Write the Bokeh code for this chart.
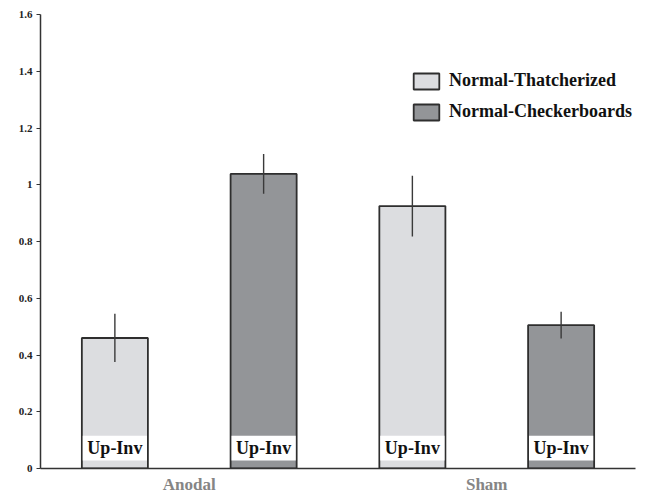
from bokeh.plotting import figure
from bokeh.models import ColumnDataSource, FactorRange, Range1d, Legend, LegendItem, NumeralTickFormatter, FixedTicker
from bokeh.transform import dodge
from bokeh.core.properties import value
from bokeh.embed import file_html
from bokeh.resources import INLINE

# ---- data ----
groups = ["Anodal", "Sham"]
thatcherized = [0.46, 0.925]
thatcherized_err = [0.085, 0.107]
checkerboards = [1.038, 0.505]
checkerboards_err = [0.07, 0.047]
series_names = ["Normal-Thatcherized", "Normal-Checkerboards"]
inner_label = "Up-Inv"
label_band = [0.028, 0.115]   # white label band (data units)
y_ticks = [0, 0.2, 0.4, 0.6, 0.8, 1.0, 1.2, 1.4, 1.6]

SERIF = "Liberation Serif"
LIGHT = "#dcdde0"
DARK = "#939598"
EDGE = "#2e2e2e"

p = figure(x_range=FactorRange(*groups), y_range=Range1d(0, 1.6),
           width=640, height=496, output_backend="svg", toolbar_location=None,
           min_border_left=40, min_border_right=5, min_border_top=14, min_border_bottom=27)
p.outline_line_color = None
p.xgrid.grid_line_color = None
p.ygrid.grid_line_color = None
p.x_range.range_padding = 0

src = ColumnDataSource(dict(
    g=groups,
    t=thatcherized,
    t_lo=[v - e for v, e in zip(thatcherized, thatcherized_err)],
    t_hi=[v + e for v, e in zip(thatcherized, thatcherized_err)],
    c=checkerboards,
    c_lo=[v - e for v, e in zip(checkerboards, checkerboards_err)],
    c_hi=[v + e for v, e in zip(checkerboards, checkerboards_err)],
    lab=[inner_label] * len(groups),
    b0=[label_band[0]] * len(groups),
    b1=[label_band[1]] * len(groups),
))

offs = {"t": -0.25, "c": 0.25}
fills = {"t": LIGHT, "c": DARK}
BW = 0.222

bars = {}
for key in ["t", "c"]:
    xd = dodge("g", offs[key], range=p.x_range)
    bars[key] = p.vbar(x=xd, top=key, width=BW, source=src, fill_color=fills[key],
                       line_color=EDGE, line_width=1.8)
    p.vbar(x=xd, bottom="b0", top="b1", width=BW - 0.006, source=src,
           fill_color="white", line_color=None)
    p.text(x=xd, y=0.071, text="lab", source=src, text_font=value(SERIF),
           text_font_style="bold", text_font_size="18px", text_align="center",
           text_baseline="middle", text_color="#111111")
    p.segment(x0=xd, x1=xd, y0=key + "_lo", y1=key + "_hi", source=src,
              line_color="#3a3a3a", line_width=1.4)

legend = Legend(items=[LegendItem(label=series_names[0], renderers=[bars["t"]]),
                       LegendItem(label=series_names[1], renderers=[bars["c"]])],
                location=(370, 346), glyph_width=32, glyph_height=20, label_height=20,
                spacing=10, padding=0, margin=0, label_standoff=7,
                border_line_alpha=0, background_fill_alpha=0,
                label_text_font=SERIF, label_text_font_style="bold",
                label_text_font_size="18px", label_text_color="#111111")
p.add_layout(legend, "center")

# axes
p.yaxis.ticker = FixedTicker(ticks=y_ticks)
p.yaxis.formatter = NumeralTickFormatter(format="0.[0]")
p.yaxis.major_tick_in = 0
p.yaxis.major_tick_out = 4
p.yaxis.minor_tick_line_color = None
p.yaxis.axis_line_color = "#333333"
p.yaxis.axis_line_width = 1.5
p.yaxis.major_tick_line_color = "#333333"
p.yaxis.major_label_text_font = SERIF
p.yaxis.major_label_text_font_style = "bold"
p.yaxis.major_label_text_font_size = "11px"
p.yaxis.major_label_text_color = "#222222"
p.yaxis.major_label_standoff = 4

p.xaxis.major_tick_in = 0
p.xaxis.major_tick_out = 0
p.xaxis.major_tick_line_color = None
p.xaxis.minor_tick_line_color = None
p.xaxis.axis_line_color = "#333333"
p.xaxis.axis_line_width = 1.5
p.xaxis.major_label_text_font = SERIF
p.xaxis.major_label_text_font_style = "bold"
p.xaxis.major_label_text_font_size = "17px"
p.xaxis.major_label_text_color = "#858585"
p.xaxis.major_label_standoff = 6

open("out.html", "w").write(file_html(p, INLINE))
